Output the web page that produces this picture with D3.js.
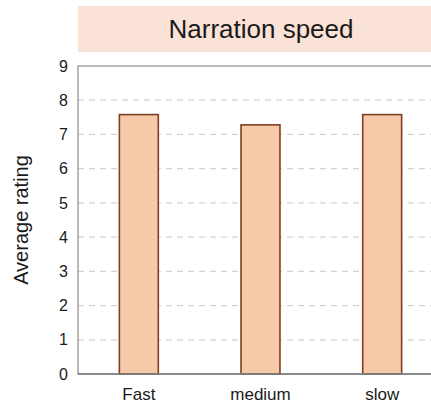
<!DOCTYPE html>
<html><head><meta charset="utf-8">
<script src="https://cdn.jsdelivr.net/npm/d3@7"></script>
<style>body{margin:0;background:#fff}svg{display:block}text{font-family:"Liberation Sans",Arial,sans-serif}</style>
</head><body>
<script>
const categories = ["Fast", "medium", "slow"];
const values = [7.58, 7.28, 7.58];
const yTicks = [0,1,2,3,4,5,6,7,8,9];
const title = "Narration speed";
const yLabel = "Average rating";

(function () {
const W = 431, H = 408;
const mLeft = 78, mRight = 443, mTop = 66, mBottom = 374;
const svg = d3.select("body").append("svg").attr("width", W).attr("height", H);

const x = d3.scaleBand().domain(categories).range([mLeft, mRight]).paddingInner(0.68).paddingOuter(0.34);
const y = d3.scaleLinear().domain([0, 9]).range([mBottom, mTop]);

// strip
svg.append("rect").attr("x", mLeft).attr("y", 6).attr("width", mRight - mLeft).attr("height", 46).attr("fill", "#fae3d6");
svg.append("text").attr("x", 261).attr("y", 38).attr("text-anchor", "middle")
  .attr("font-size", 26).attr("fill", "#1a1a1a").text(title);

// grid
svg.append("g").selectAll("line").data(yTicks.filter(d => d > 0 && d < 9)).join("line")
  .attr("x1", mLeft).attr("x2", mRight).attr("y1", d => y(d)).attr("y2", d => y(d))
  .attr("stroke", "#d4d4d4").attr("stroke-width", 1.2).attr("stroke-dasharray", "6,5");

// bars
svg.append("g").selectAll("rect").data(values).join("rect")
  .attr("x", (d, i) => x(categories[i])).attr("width", x.bandwidth())
  .attr("y", d => y(d)).attr("height", d => y(0) - y(d))
  .attr("fill", "#f6c9a9").attr("stroke", "#7f3f22").attr("stroke-width", 1.6);

// panel border
svg.append("rect").attr("x", mLeft).attr("y", mTop).attr("width", mRight - mLeft).attr("height", mBottom - mTop)
  .attr("fill", "none").attr("stroke", "#8c8c8c").attr("stroke-width", 1.2);
svg.append("line").attr("x1", mLeft).attr("x2", mRight).attr("y1", mBottom).attr("y2", mBottom)
  .attr("stroke", "#7a7a7a").attr("stroke-width", 1.5);

// y axis
const yAxis = d3.axisLeft(y).tickValues(yTicks).tickSize(0).tickPadding(10);
const gy = svg.append("g").attr("transform", `translate(${mLeft},0)`).call(yAxis);
gy.select(".domain").remove();
gy.selectAll("text").attr("font-size", 16).attr("fill", "#1a1a1a").attr("font-family", '"Liberation Sans",Arial,sans-serif');

// x axis
const xAxis = d3.axisBottom(x).tickSize(0).tickPadding(14);
const gx = svg.append("g").attr("transform", `translate(0,${mBottom})`).call(xAxis);
gx.select(".domain").remove();
gx.selectAll("text").attr("font-size", 17).attr("fill", "#1a1a1a").attr("font-family", '"Liberation Sans",Arial,sans-serif');

// y label
svg.append("text").attr("transform", `translate(28,${(mTop + mBottom) / 2}) rotate(-90)`)
  .attr("text-anchor", "middle").attr("font-size", 20).attr("fill", "#1a1a1a").text(yLabel);
})();
</script>
</body></html>
